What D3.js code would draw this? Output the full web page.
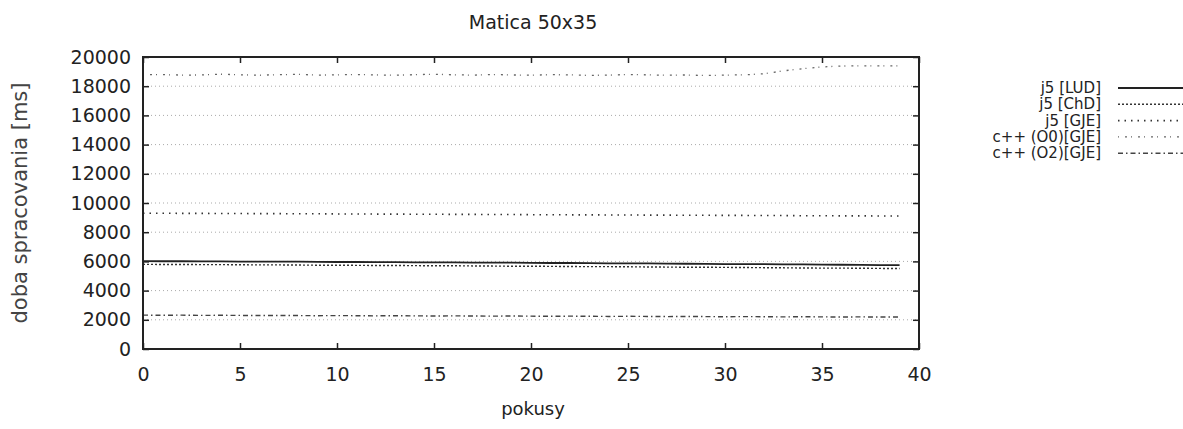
<!DOCTYPE html>
<html>
<head>
<meta charset="utf-8">
<script src="https://cdn.jsdelivr.net/npm/d3@7"></script>
<style>
  body { margin: 0; background: #fff; }
  text { font-family: "DejaVu Sans", sans-serif; fill: #222; }
</style>
</head>
<body>
<script>
'use strict';

// pokusy 0..39
const attempts = d3.range(0, 40)

const seriesNames = ["j5 [LUD]", "j5 [ChD]", "j5 [GJE]", "c++ (O0)[GJE]", "c++ (O2)[GJE]"]

const ludValues = [6020, 6010, 6010, 6000, 6000, 5990, 5990, 5980, 5980, 5970,
  5960, 5960, 5950, 5950, 5940, 5930, 5930, 5920, 5910, 5910,
  5900, 5890, 5890, 5880, 5870, 5860, 5860, 5850, 5840, 5830,
  5820, 5820, 5810, 5800, 5790, 5780, 5770, 5760, 5750, 5740]

const chdValues = [5800, 5790, 5790, 5780, 5780, 5770, 5760, 5760, 5750, 5740,
  5740, 5730, 5720, 5720, 5710, 5700, 5700, 5690, 5680, 5670,
  5670, 5660, 5650, 5640, 5640, 5630, 5620, 5610, 5600, 5600,
  5590, 5580, 5570, 5560, 5550, 5540, 5540, 5530, 5520, 5510]

const gjeValues = [9300, 9300, 9290, 9290, 9280, 9280, 9270, 9270, 9260, 9260,
  9250, 9250, 9240, 9240, 9230, 9230, 9220, 9220, 9210, 9210,
  9200, 9200, 9190, 9190, 9180, 9180, 9170, 9170, 9160, 9160,
  9150, 9150, 9140, 9140, 9130, 9130, 9120, 9120, 9110, 9110]

const o0Values = [18800, 18790, 18760, 18770, 18820, 18780, 18750, 18790, 18810, 18760,
  18780, 18800, 18770, 18750, 18790, 18820, 18780, 18760, 18800, 18770,
  18750, 18790, 18780, 18740, 18760, 18800, 18780, 18750, 18770, 18730,
  18760, 18780, 18850, 19050, 19200, 19320, 19380, 19400, 19390, 19400]

const o2Values = [2320, 2310, 2320, 2300, 2310, 2300, 2290, 2300, 2290, 2280,
  2290, 2280, 2270, 2280, 2270, 2260, 2270, 2260, 2250, 2260,
  2250, 2240, 2250, 2240, 2230, 2240, 2230, 2220, 2230, 2220,
  2210, 2220, 2210, 2200, 2210, 2200, 2190, 2200, 2190, 2190]

const yTicks = d3.range(0, 20001, 2000)
const xTicks = d3.range(0, 41, 5)

const allValues = [ludValues, chdValues, gjeValues, o0Values, o2Values]

// line look per series, in legend order
const styles = [
  { dash: null, width: 1.8, color: '#222' },
  { dash: '2,2', width: 1.4, color: '#333' },
  { dash: '1.5,5', width: 1.6, color: '#333' },
  { dash: '1,6,2,4', width: 1.3, color: '#666' },
  { dash: '5,3,1.5,3', width: 1.4, color: '#444' }
]

const m = { width: 1183, height: 429, left: 143, right: 919, top: 57, bottom: 349 }

const svg = d3.select('body')
  .append('svg')
  .attr('width', m.width)
  .attr('height', m.height)

const xScale = d3.scaleLinear()
  .domain([0, 40])
  .range([m.left, m.right])

const yScale = d3.scaleLinear()
  .domain([0, 20000])
  .range([m.bottom, m.top])

// dotted horizontal grid
svg.append('g')
  .selectAll('line')
  .data(yTicks.filter(t => t > 0 && t < 20000))
  .enter().append('line')
    .attr('x1', m.left)
    .attr('x2', m.right)
    .attr('y1', d => yScale(d))
    .attr('y2', d => yScale(d))
    .style('stroke', '#aaa')
    .style('stroke-width', 1)
    .style('stroke-dasharray', '1,3')

function styleAxis(g) {
  g.select('.domain').remove()
  g.selectAll('.tick line').style('stroke', '#222').style('stroke-width', 1.5)
  g.selectAll('.tick text').style('font-size', '19px').style('font-family', '"DejaVu Sans", sans-serif').style('fill', '#222')
}

svg.append('g')
  .attr('transform', 'translate(' + m.left + ',0)')
  .call(d3.axisLeft(yScale).tickValues(yTicks).tickSize(-6).tickPadding(12).tickFormat(d3.format('d')))
  .call(styleAxis)

svg.append('g')
  .attr('transform', 'translate(' + m.right + ',0)')
  .call(d3.axisRight(yScale).tickValues(yTicks).tickSize(-6).tickFormat(''))
  .call(styleAxis)

svg.append('g')
  .attr('transform', 'translate(0,' + m.bottom + ')')
  .call(d3.axisBottom(xScale).tickValues(xTicks).tickSize(-6).tickPadding(19).tickFormat(d3.format('d')))
  .call(styleAxis)

svg.append('g')
  .attr('transform', 'translate(0,' + m.top + ')')
  .call(d3.axisTop(xScale).tickValues(xTicks).tickSize(-6).tickFormat(''))
  .call(styleAxis)

const line = d3.line()
  .x((d, i) => xScale(attempts[i]))
  .y(d => yScale(d))

svg.append('g')
  .selectAll('path')
  .data(allValues)
  .enter().append('path')
    .attr('d', line)
    .style('fill', 'none')
    .style('stroke', (d, i) => styles[i].color)
    .style('stroke-width', (d, i) => styles[i].width)
    .style('stroke-dasharray', (d, i) => styles[i].dash)

// frame
svg.append('rect')
  .attr('x', m.left)
  .attr('y', m.top)
  .attr('width', m.right - m.left)
  .attr('height', m.bottom - m.top)
  .style('fill', 'none')
  .style('stroke', '#222')
  .style('stroke-width', 2)

svg.append('text')
  .attr('x', 533)
  .attr('y', 29)
  .attr('text-anchor', 'middle')
  .style('font-size', '19px')
  .text('Matica 50x35')

svg.append('text')
  .attr('x', 533)
  .attr('y', 415)
  .attr('text-anchor', 'middle')
  .style('font-size', '18px')
  .text('pokusy')

svg.append('text')
  .attr('transform', 'translate(27, 203)rotate(-90)')
  .attr('text-anchor', 'middle')
  .style('font-size', '21px')
  .style('fill', '#444')
  .text('doba spracovania [ms]')

// legend
const legend = svg.append('g')
  .selectAll('g')
  .data(seriesNames)
  .enter().append('g')
    .attr('transform', (d, i) => 'translate(0,' + (88 + i * 16.3) + ')')

legend.append('text')
  .attr('x', 1101)
  .attr('y', 5)
  .attr('text-anchor', 'end')
  .style('font-size', '15px')
  .text(d => d)

legend.append('line')
  .attr('x1', 1118)
  .attr('x2', 1183)
  .attr('y1', 0)
  .attr('y2', 0)
  .style('stroke', (d, i) => styles[i].color)
  .style('stroke-width', (d, i) => styles[i].width)
  .style('stroke-dasharray', (d, i) => styles[i].dash)
</script>
</body>
</html>
